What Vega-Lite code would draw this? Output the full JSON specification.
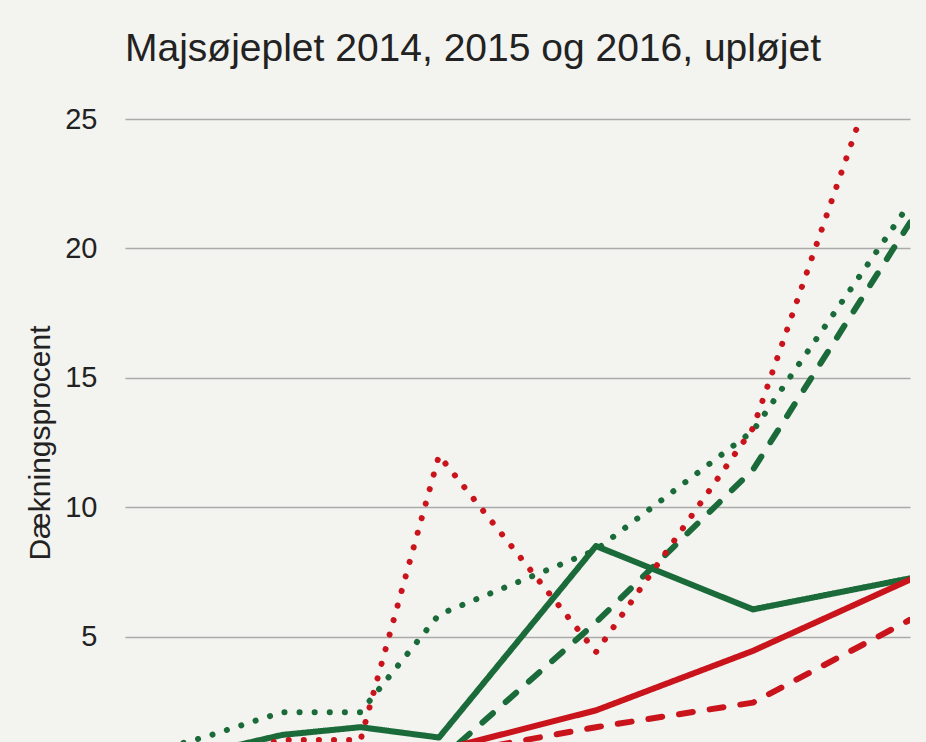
{
  "$schema": "https://vega.github.io/schema/vega-lite/v6.json",
  "width": 785,
  "height": 647,
  "autosize": {"type": "none"},
  "padding": {"left": 125, "top": 119, "right": 16, "bottom": 0},
  "background": "#f3f3ef",
  "title": {
    "text": "Majsøjeplet 2014, 2015 og 2016, upløjet",
    "anchor": "start",
    "frame": "group",
    "fontSize": 39,
    "font": "Liberation Sans",
    "fontWeight": "normal",
    "color": "#222222",
    "offset": 36
  },
  "config": {
    "view": {"stroke": null},
    "font": "Liberation Sans"
  },
  "data": {
    "values": [
      {"uge": 0, "serie": "A", "aar": "2014", "pct": 0.1},
      {"uge": 1, "serie": "A", "aar": "2014", "pct": 0.5},
      {"uge": 2, "serie": "A", "aar": "2014", "pct": 1.2},
      {"uge": 3, "serie": "A", "aar": "2014", "pct": 1.5},
      {"uge": 4, "serie": "A", "aar": "2014", "pct": 1.1},
      {"uge": 6, "serie": "A", "aar": "2014", "pct": 8.5},
      {"uge": 8, "serie": "A", "aar": "2014", "pct": 6.05},
      {"uge": 10, "serie": "A", "aar": "2014", "pct": 7.25},
      {"uge": 0, "serie": "A", "aar": "2015", "pct": 0},
      {"uge": 1, "serie": "A", "aar": "2015", "pct": 0},
      {"uge": 2, "serie": "A", "aar": "2015", "pct": 0},
      {"uge": 3, "serie": "A", "aar": "2015", "pct": 0.05},
      {"uge": 4, "serie": "A", "aar": "2015", "pct": 0.2},
      {"uge": 6, "serie": "A", "aar": "2015", "pct": 5.55},
      {"uge": 8, "serie": "A", "aar": "2015", "pct": 11.45},
      {"uge": 10, "serie": "A", "aar": "2015", "pct": 21.0},
      {"uge": 0, "serie": "A", "aar": "2016", "pct": 0.3},
      {"uge": 1, "serie": "A", "aar": "2016", "pct": 1.1},
      {"uge": 2, "serie": "A", "aar": "2016", "pct": 2.08},
      {"uge": 3, "serie": "A", "aar": "2016", "pct": 2.08},
      {"uge": 4, "serie": "A", "aar": "2016", "pct": 5.85},
      {"uge": 6, "serie": "A", "aar": "2016", "pct": 8.35},
      {"uge": 8, "serie": "A", "aar": "2016", "pct": 12.95},
      {"uge": 10, "serie": "A", "aar": "2016", "pct": 21.75},
      {"uge": 0, "serie": "B", "aar": "2014", "pct": 0},
      {"uge": 1, "serie": "B", "aar": "2014", "pct": 0},
      {"uge": 2, "serie": "B", "aar": "2014", "pct": 0.1},
      {"uge": 3, "serie": "B", "aar": "2014", "pct": 0.3},
      {"uge": 4, "serie": "B", "aar": "2014", "pct": 0.6},
      {"uge": 6, "serie": "B", "aar": "2014", "pct": 2.15},
      {"uge": 8, "serie": "B", "aar": "2014", "pct": 4.45},
      {"uge": 10, "serie": "B", "aar": "2014", "pct": 7.2},
      {"uge": 0, "serie": "B", "aar": "2015", "pct": 0},
      {"uge": 1, "serie": "B", "aar": "2015", "pct": 0},
      {"uge": 2, "serie": "B", "aar": "2015", "pct": 0},
      {"uge": 3, "serie": "B", "aar": "2015", "pct": 0.1},
      {"uge": 4, "serie": "B", "aar": "2015", "pct": 0.4},
      {"uge": 6, "serie": "B", "aar": "2015", "pct": 1.5},
      {"uge": 8, "serie": "B", "aar": "2015", "pct": 2.45},
      {"uge": 10, "serie": "B", "aar": "2015", "pct": 5.65},
      {"uge": 0, "serie": "B", "aar": "2016", "pct": 0},
      {"uge": 1, "serie": "B", "aar": "2016", "pct": 0.3},
      {"uge": 2, "serie": "B", "aar": "2016", "pct": 1.0},
      {"uge": 3, "serie": "B", "aar": "2016", "pct": 1.0},
      {"uge": 4, "serie": "B", "aar": "2016", "pct": 12.0},
      {"uge": 6, "serie": "B", "aar": "2016", "pct": 4.4},
      {"uge": 8, "serie": "B", "aar": "2016", "pct": 13.05},
      {"uge": 10, "serie": "B", "aar": "2016", "pct": 30.6}
    ]
  },
  "mark": {"type": "line", "clip": true, "strokeWidth": 6, "strokeCap": "round", "strokeJoin": "round"},
  "encoding": {
    "x": {"field": "uge", "type": "quantitative", "scale": {"domain": [0, 10], "nice": false}, "axis": null},
    "y": {
      "field": "pct",
      "type": "quantitative",
      "scale": {"domain": [0, 25], "nice": false},
      "axis": {
        "title": "Dækningsprocent",
        "titleFontSize": 30,
        "titleFontWeight": "normal",
        "titleColor": "#222222",
        "titlePadding": 9,
        "values": [5, 10, 15, 20, 25],
        "labelFontSize": 29,
        "labelColor": "#222222",
        "labelPadding": 28,
        "ticks": false,
        "domain": false,
        "gridColor": "#aaaaaa",
        "gridWidth": 1.5
      }
    },
    "color": {
      "field": "serie",
      "type": "nominal",
      "scale": {"domain": ["A", "B"], "range": ["#1b6b3a", "#c9141c"]},
      "legend": null
    },
    "strokeDash": {
      "field": "aar",
      "type": "nominal",
      "scale": {"domain": ["2014", "2015", "2016"], "range": [[1, 0], [14, 17], [0.1, 15]]},
      "legend": null
    },
    "detail": {"field": "aar"}
  }
}
